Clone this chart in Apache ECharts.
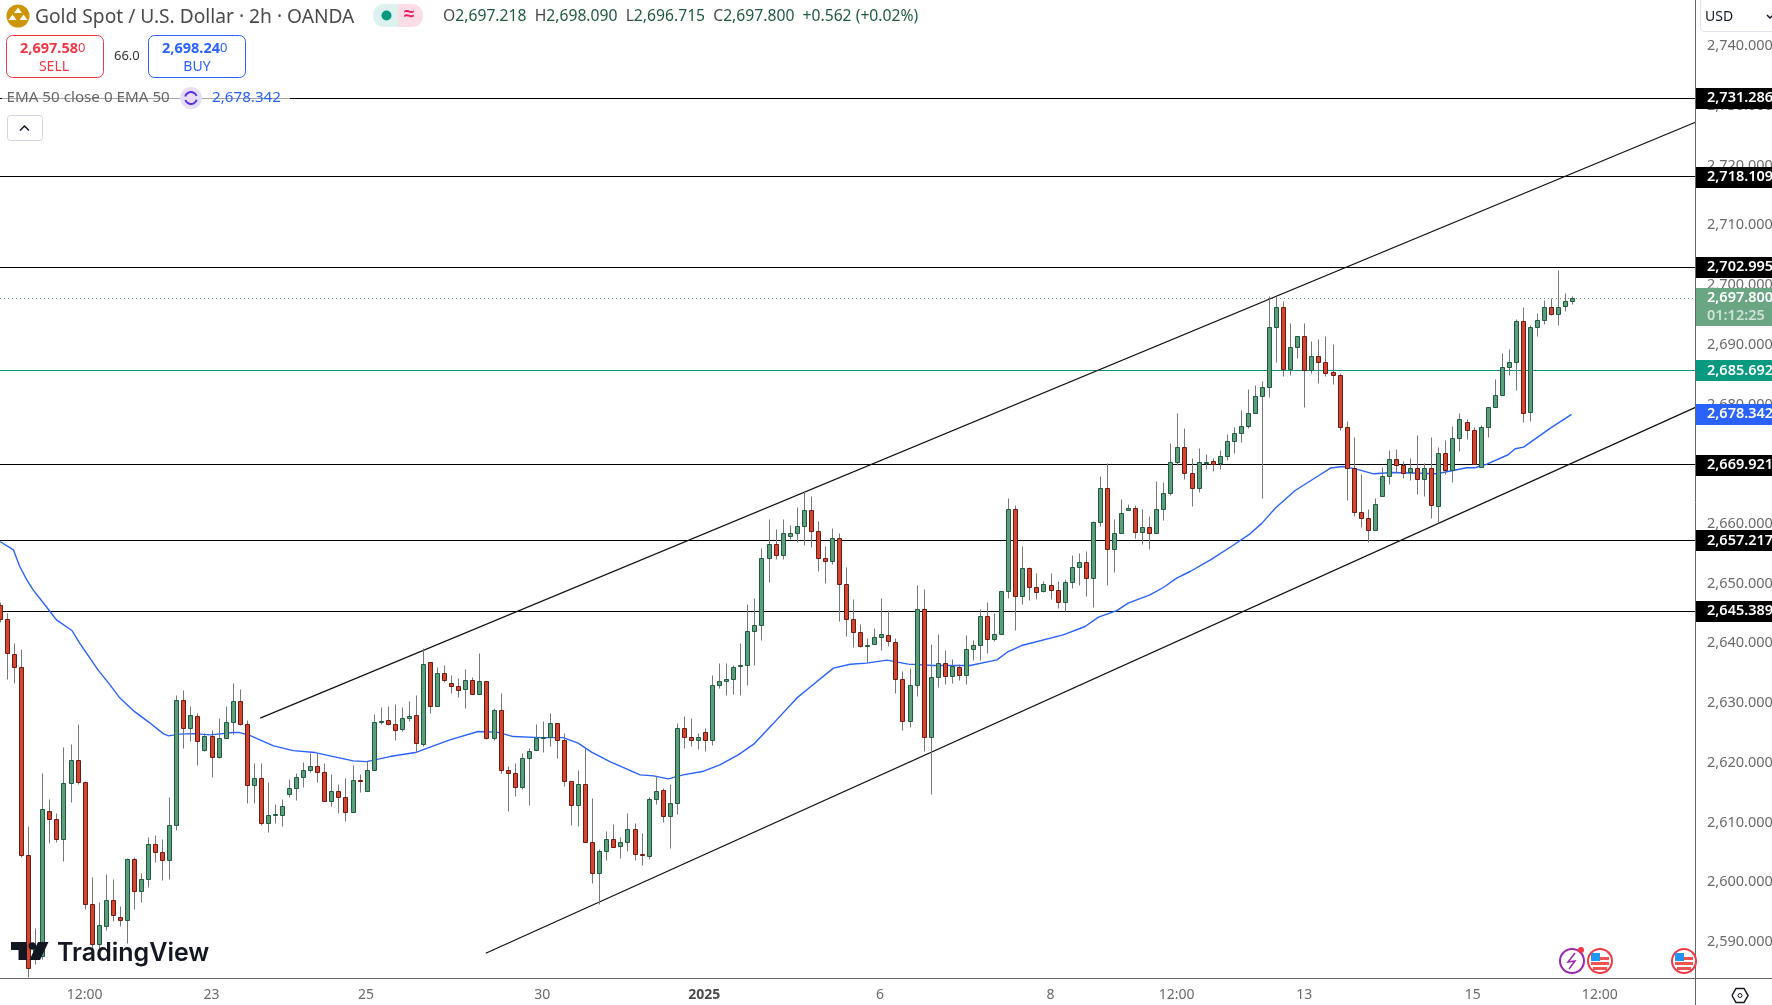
<!DOCTYPE html>
<html>
<head>
<meta charset="utf-8">
<script src="https://cdn.jsdelivr.net/npm/echarts@6/dist/echarts.min.js"></script>
<style>
  html, body { margin: 0; padding: 0; background: #fff; }
  #chart { width: 1772px; height: 1005px; }
</style>
</head>
<body>
<div id="chart"></div>
<script>
var opens = [
  2646.3,2644.05,2638.2,2636.0,2604.5,2587.3,2587.55,2611.9,2610.55,2607.2,
  2616.6,2620.45,2616.75,2596.3,2589.6,2592.55,2596.85,2594.15,2593.6,2603.85,
  2598.45,2600.4,2606.35,2605,2603.7,2609.55,2630.5,2625.75,2627.8,2622.05,
  2624.45,2620.95,2624.1,2626.8,2630.3,2626.45,2616.25,2617.4,2609.9,2611.2,
  2611.2,2614.75,2615.6,2617.6,2618.75,2619.4,2618.4,2613.55,2615.25,2614.25,
  2611.7,2617.05,2615.2,2618.75,2626.7,2627,2626.45,2625.6,2627.45,2627.95,
  2623.1,2636.7,2629.4,2635,2633.3,2632.75,2632.3,2633.85,2631.5,2633.65,
  2624.05,2628.8,2618.75,2618.25,2615.9,2620.7,2622.1,2624.2,2624.25,2626.6,
  2623.8,2616.9,2612.85,2616.4,2606.7,2601.45,2605.2,2607.2,2606,2606.7,
  2608.85,2604.7,2604.35,2613.9,2615.4,2611,2613.2,2625.8,2624.3,2623.75,
  2625.1,2623.8,2633,2633.65,2634,2636.15,2636.2,2642,2642.9,2654.25,
  2656.6,2654.7,2657.8,2658.45,2659.6,2662.3,2658.8,2654.25,2653.7,2657.6,
  2649.9,2643.9,2641.85,2639.5,2639.85,2641.05,2641.35,2640.2,2634,2626.95,
  2632.85,2645.7,2624.3,2634.35,2636.65,2634.5,2636,2634.6,2639,2639.7,
  2644.55,2640.7,2641.55,2648.6,2662.45,2647.75,2652.6,2649.4,2648.75,2649.75,
  2648.9,2646.9,2650.1,2652.75,2653.6,2650.9,2660.3,2666,2655.75,2658.45,
  2662.3,2662.65,2658.6,2659.45,2658.45,2662.45,2665,2670.35,2672.85,2668.5,
  2665.95,2670.3,2670.5,2670.05,2671.2,2673.85,2675.2,2676.35,2678.55,2681.4,
  2682.75,2692.8,2696.15,2685.9,2689.45,2691.3,2685.75,2688.1,2687.1,2685.4,
  2684.9,2676.05,2669.35,2661.95,2660.95,2658.95,2664.5,2668,2670.85,2669.85,
  2668.6,2669.35,2667.35,2669.35,2662.95,2671.85,2669,2674.35,2677.05,2675.7,
  2669.5,2676.2,2679.4,2681.55,2686.1,2686.95,2693.95,2678.7,2692.8,2694.1,
  2696.15,2695.1,2696.45,2697.218
];
var closes = [
  2644.05,2638.35,2636,2604.5,2585.6,2588.95,2612.1,2610.5,2607.2,2616.6,
  2620.45,2616.7,2596.3,2589.6,2592.7,2596.85,2594.4,2593.6,2603.85,2598.45,
  2600.4,2606.35,2604.95,2603.7,2609.55,2630.5,2625.75,2627.95,2623.55,2624.45,
  2620.95,2624.1,2626.8,2630.3,2626.4,2616.25,2617.4,2609.9,2611.2,2611.25,
  2612.7,2615.6,2617.6,2618.75,2619.4,2618.4,2613.55,2615.25,2614.25,2611.7,
  2617.05,2616.8,2618.75,2626.8,2626.95,2626.35,2625.4,2627.45,2627.8,2623.25,
  2636.5,2629.4,2635,2633.8,2632.75,2632.1,2633.85,2631.5,2633.65,2624.05,
  2628.8,2618.7,2618.2,2615.9,2620.75,2621.95,2624.1,2624.25,2626.6,2623.8,
  2616.85,2612.85,2616.4,2606.7,2601.45,2605.2,2607.2,2605.85,2606.7,2608.85,
  2604.7,2604.5,2613.9,2615.25,2611,2613.2,2625.8,2624.25,2623.8,2624.3,
  2623.8,2633,2633.65,2634,2636,2636.2,2642,2643,2654.25,2656.6,
  2654.7,2658.3,2658.45,2659.6,2662.3,2658.7,2654.25,2653.7,2657.55,2649.9,
  2643.9,2641.85,2639.45,2639.6,2641.05,2641.55,2640.35,2634,2626.95,2632.85,
  2645.7,2624.3,2634.35,2636.65,2634.5,2636.15,2634.6,2639,2639.7,2644.55,
  2640.7,2641.55,2648.6,2662.45,2647.75,2652.6,2649.4,2648.55,2649.9,2648.9,
  2646.9,2650.1,2652.75,2653.6,2650.9,2660.3,2666,2655.75,2658.45,2661.65,
  2662.65,2658.6,2659.45,2658.45,2662.45,2665,2670.35,2672.85,2668.5,2665.95,
  2670.35,2670.35,2670,2671.2,2673.85,2675.2,2676.35,2678.55,2681.4,2682.75,
  2692.8,2696.15,2685.9,2689.45,2691.3,2685.75,2688.1,2687.1,2685.25,2684.9,
  2676.05,2669.35,2661.95,2660.95,2658.95,2663.3,2668,2670.85,2669.85,2668.5,
  2669.35,2667.35,2669.35,2663.15,2671.85,2669,2674.35,2677.55,2675.65,2670,
  2676.2,2679.4,2681.55,2686.1,2686.95,2693.8,2678.55,2692.8,2694.1,2696.3,
  2695.1,2696.3,2697.3,2697.8
];
var highs = [
  2646.8,2645.05,2640,2639,2609.4,2592.3,2618.15,2613.9,2611.55,2622.6,
  2623,2626.45,2616.9,2600.85,2596.65,2601.2,2600.4,2595.9,2604,2604.1,
  2601.4,2607.5,2607.75,2607.1,2614.2,2631.3,2632.05,2629.35,2628.2,2624.85,
  2625.35,2627.45,2629.4,2633.3,2632.2,2627,2619.9,2619.9,2616.75,2612.95,
  2613.9,2617.15,2618.15,2620.1,2621.5,2621.6,2619.8,2618,2616.3,2617.35,
  2619.5,2618.1,2620.2,2628,2629.3,2629.4,2629.7,2629.25,2630.25,2631.2,
  2639.2,2636.8,2636,2636.35,2634.55,2634.15,2635.65,2634.3,2638.35,2633.65,
  2629.05,2631.65,2619.35,2619.8,2621.5,2622.35,2626.35,2626.85,2628.2,2626.6,
  2624.85,2616.9,2618.75,2622.6,2613.95,2605.55,2608.4,2609.6,2607.55,2611.55,
  2609.75,2608.1,2614.1,2617.7,2615.6,2616.3,2626.6,2627.7,2627.35,2624.95,
  2625.7,2634.55,2636.55,2636.55,2636.25,2640,2646.45,2647.45,2655.95,2660.65,
  2659,2660.65,2659.7,2662.7,2665.4,2664.5,2660.45,2656.15,2659.3,2658.45,
  2652.75,2647.4,2643.1,2640.85,2642.55,2647.55,2645.45,2640.85,2635.3,2635.85,
  2649.65,2648.95,2639.75,2641.4,2638.75,2637.25,2636.4,2641.25,2640.4,2645.7,
  2646.8,2644.95,2648.7,2664.3,2663.15,2656.15,2652.75,2651.65,2650.3,2651.65,
  2650.4,2650.75,2654.65,2655.1,2655.3,2660.45,2667.85,2670.15,2660.7,2664.15,
  2663.3,2663.05,2662.35,2661.15,2667.05,2667,2673.4,2678.4,2675.9,2671,
  2672.7,2671.55,2671,2672.25,2674.9,2676.1,2678.95,2682.55,2683.25,2683.9,
  2698,2698,2697.3,2693.6,2691.3,2693.6,2690.6,2690.95,2691.45,2689.95,
  2685.1,2677.2,2674.4,2668.2,2662.45,2664.3,2669.5,2672.25,2672.5,2670.5,
  2671,2674.75,2670.05,2674.5,2672.85,2674,2676.35,2678.4,2677.4,2676.05,
  2676.55,2679.4,2684.25,2688.6,2689.15,2694.3,2696.15,2693.2,2695.3,2697.45,
  2697.8,2702.4,2698.55,2698.09
];
var lows = [
  2643.5,2634,2633.3,2604.1,2584,2586.2,2587,2606.4,2606.65,2603.5,
  2613.35,2616.3,2595.45,2588.4,2588.9,2591.9,2593.4,2592.6,2589.8,2595.5,
  2596.6,2599.1,2603.3,2600.3,2600.4,2608.65,2622.4,2623.5,2619.55,2621.9,
  2617.5,2620.75,2624,2624.7,2626.2,2613.2,2613.2,2609.5,2608.3,2609.9,
  2609.3,2614.25,2613.65,2615.85,2618.35,2616.7,2613.45,2612.65,2611.55,2610.15,
  2611.7,2615,2615.2,2618.75,2626.4,2626.3,2623.65,2625.25,2626.9,2621.7,
  2622.7,2628.25,2629.4,2633.45,2631.65,2630.95,2629.1,2631.5,2631.5,2623.9,
  2623.7,2618.15,2611.85,2614.35,2615.55,2612.8,2622.1,2621.7,2622.7,2620.65,
  2616,2609.45,2609.3,2606.7,2599.8,2596.3,2603.6,2605.85,2603.9,2605.15,
  2603.6,2602.8,2603.85,2613.05,2610,2605.6,2611.25,2622.4,2622.65,2622.15,
  2621.85,2622.9,2632.45,2631.25,2631.4,2631.25,2632.95,2636.25,2640.5,2650.2,
  2654,2654,2657.45,2656.9,2656.4,2656.05,2652.05,2650,2653.25,2643.65,
  2641.15,2639.3,2639.3,2636.7,2639.85,2638.8,2639.45,2631.65,2625.4,2625.9,
  2631.1,2621.9,2614.6,2632.6,2633.05,2633.2,2633.75,2633.05,2637.1,2637.2,
  2638.35,2640.3,2641.55,2647.5,2642.15,2646.45,2647.1,2647.3,2648.45,2647.3,
  2645.75,2645.4,2649.2,2649.6,2647.85,2646,2659.55,2649.7,2651.85,2658.45,
  2662.3,2657.55,2656.5,2655.65,2658.45,2660.55,2664.8,2669.8,2667.4,2662.9,
  2665.25,2669.15,2668.7,2669.05,2670.6,2671.75,2673.6,2676,2678.4,2664.25,
  2681.2,2687.05,2684.7,2684.85,2687.7,2679.5,2685.2,2683.5,2684.7,2683.3,
  2675.65,2663.9,2661.25,2659.4,2656.95,2658.95,2664.5,2666.55,2668.5,2667.55,
  2667.2,2664.85,2664.6,2660.85,2660.1,2668.2,2666.95,2672.05,2674.1,2670,
  2669.4,2674.45,2679.4,2681.55,2684.8,2682.35,2677,2677.15,2691.4,2693.4,
  2694.85,2693.2,2695.55,2696.715
];

// EMA 50, bar position then price
var emaBars = [
  0,1.9,2.8,3.8,4.7,7.1,8,10.2,11.3,13.9,15.6,16.9,18.9,21,23.2,23.9,25.5,27.4,29.8,33.1,
  34,35.5,38.8,41.6,44.7,47.3,50.1,52,55.3,58.9,63.8,67.8,70.5,72.8,76.6,79.9,82,83.9,86.5,90.8,
  92.7,94.8,96.9,99.8,102.1,104.7,106.9,109.5,113,114.7,118.2,120.6,122.9,125.8,128.8,132.4,137.6,141.4,143,144.9,
  150.8,153.9,155.8,158.4,160,163.1,165,166.9,168.8,171.8,174.9,177.3,179,180.9,183.7,187,188.7,190.5,192.4,194.8,
  197.6,203.8,208,209.2,210.9,213.9,214.9,216.1,219.9,222.9
];
var emaValues = [
  2657.04,2655.65,2652.86,2650.63,2648.95,2645.32,2643.93,2642.14,2640.02,2635.55,2633.04,2630.98,2628.73,2626.89,2624.83,2624.5,2624.78,2624.88,2624.66,2625.05,
  2625.05,2624.55,2622.82,2622.03,2621.7,2621.03,2620.31,2620.19,2621.03,2621.7,2623.83,2625.22,2625.12,2624.38,2624.21,2624.21,2623.27,2621.77,2620.19,2617.96,
  2617.8,2617.29,2617.96,2618.58,2619.64,2621.31,2623.11,2626.34,2630.81,2632.48,2635.84,2636.48,2636.68,2637.18,2636.51,2636.28,2636.28,2637.23,2638.62,2639.62,
  2641.41,2642.81,2644.38,2645.48,2646.72,2648.12,2649.34,2650.91,2652.02,2654.06,2656.41,2658.33,2660.12,2662.64,2665.58,2668.05,2669.34,2669.61,2669.17,2668.38,
  2668.6,2668.38,2669.39,2669.39,2670.01,2671.57,2672.57,2672.85,2676.04,2678.34
];

var levelPrices = [2731.286, 2718.109, 2702.995, 2669.921, 2657.217, 2645.389];
var supportPrice = 2685.692;
var lastPrice = 2697.8;
var emaLast = 2678.342;

var upperTrendBars = [36.9, 240.55];
var upperTrendPrices = [2627.46, 2727.3];
var lowerTrendBars = [68.9, 240.55];
var lowerTrendPrices = [2588.1, 2679.55];

var priceTicks = [2590,2600,2610,2620,2630,2640,2650,2660,2670,2680,2690,2700,2710,2720,2730,2740];
var timeTickBars = [12, 30, 51.9, 76.9, 99.9, 124.8, 149, 166.9, 185, 208.9, 226.9];
var timeTickLabels = ['12:00', '23', '25', '30', '2025', '6', '8', '12:00', '13', '15', '12:00'];

var font = '"Noto Sans", sans-serif';
var upFill = '#5c9e7b', upLine = '#1f5b3e';
var downFill = '#d2452f', downLine = '#6e1a12';
var black = '#000000';
var teal = '#089981';
var blue = '#2962ff';
var lastGreen = '#6aa584';

var candleData = opens.map(function (o, i) {
  return [i, o, closes[i], lows[i], highs[i]];
});

function snap(v) {
  return Math.floor(v) + 0.5;
}

function fmt(v) {
  return v.toFixed(3).replace(/\B(?=(\d{3})+(?!\d))(?=.*\.)/g, ',');
}

function renderCandle(params, api) {
  var i = api.value(0), o = api.value(1), c = api.value(2);
  var x = snap(api.coord([i, o])[0] + 0.5);
  var yOpen = snap(api.coord([i, o])[1]);
  var yClose = snap(api.coord([i, c])[1]);
  var yLow = snap(api.coord([i, api.value(3)])[1]);
  var yHigh = snap(api.coord([i, api.value(4)])[1]);
  var up = c >= o;
  return {
    type: 'group',
    children: [
      {
        type: 'line',
        shape: { x1: x, y1: yHigh, x2: x, y2: yLow },
        style: { stroke: '#787878', lineWidth: 1 }
      },
      {
        type: 'rect',
        shape: { x: x - 2, y: Math.min(yOpen, yClose), width: 4, height: Math.max(Math.abs(yOpen - yClose), 1) },
        style: { fill: up ? upFill : downFill, stroke: up ? upLine : downLine, lineWidth: 1 }
      }
    ]
  };
}

function levelLine(color, dash) {
  return function (params, api) {
    var y = snap(api.coord([0, api.value(0)])[1]);
    var cs = params.coordSys;
    return {
      type: 'line',
      shape: { x1: cs.x, y1: y, x2: cs.x + cs.width, y2: y },
      style: { stroke: color, lineWidth: 1, lineDash: dash || null }
    };
  };
}

function priceTag(color) {
  return function (params, api) {
    var y = api.coord([0, api.value(0)])[1];
    var cs = params.coordSys;
    var x = cs.x + cs.width;
    return {
      type: 'group',
      children: [
        {
          type: 'rect',
          shape: { x: x, y: Math.round(y) - 10, width: 76, height: 21 },
          style: { fill: color }
        },
        {
          type: 'text',
          x: x + 11,
          y: y,
          style: { text: fmt(api.value(0)), fill: '#ffffff', font: '600 14.5px ' + font, textVerticalAlign: 'middle' }
        }
      ]
    };
  };
}

function renderLastTag(params, api) {
  var y = api.coord([0, api.value(0)])[1];
  var cs = params.coordSys;
  var x = cs.x + cs.width;
  return {
    type: 'group',
    children: [
      {
        type: 'rect',
        shape: { x: x, y: Math.round(y) - 10, width: 76, height: 38 },
        style: { fill: lastGreen }
      },
      {
        type: 'text',
        x: x + 11,
        y: y,
        style: { text: fmt(api.value(0)), fill: '#ffffff', font: '600 14.5px ' + font, textVerticalAlign: 'middle' }
      },
      {
        type: 'text',
        x: x + 11,
        y: y + 18,
        style: { text: '01:12:25', fill: '#cfe2d8', font: '600 14.5px ' + font, textVerticalAlign: 'middle' }
      }
    ]
  };
}

function label(x, y, text, color, size, extra) {
  var style = { x: x, y: y, text: text, fill: color, font: (extra && extra.weight ? extra.weight + ' ' : '') + size + 'px ' + font, textVerticalAlign: 'middle', textAlign: (extra && extra.align) || 'left' };
  return { type: 'text', z: 60, style: style };
}

function box(x, y, w, h, r, stroke, fill) {
  return { type: 'rect', z: 55, shape: { x: x, y: y, width: w, height: h, r: r }, style: { fill: fill || '#fff', stroke: stroke, lineWidth: 1 } };
}

function poly(points, fill, stroke) {
  return { type: stroke ? 'polyline' : 'polygon', z: 60, shape: { points: points }, style: stroke ? { fill: 'none', stroke: stroke, lineWidth: 1.5 } : { fill: fill } };
}

function dot(cx, cy, r, fill, stroke, lw) {
  return { type: 'circle', z: 58, shape: { cx: cx, cy: cy, r: r }, style: { fill: fill, stroke: stroke, lineWidth: lw || 0 } };
}

function quote(x, big, color) {
  return {
    type: 'text', z: 60,
    style: {
      x: x, y: 49,
      text: '{a|' + big + '}{b|0}',
      textVerticalAlign: 'middle',
      rich: {
        a: { fill: color, font: '700 14.5px ' + font },
        b: { fill: color, font: '13px ' + font, verticalAlign: 'top' }
      }
    }
  };
}

function flagIcon(cx, cy) {
  return [
    dot(cx, cy, 12, '#ffffff', '#f23645', 2),
    { type: 'rect', z: 59, shape: { x: cx - 9, y: cy + 1, width: 18, height: 3 }, style: { fill: '#ef5350' } },
    { type: 'rect', z: 59, shape: { x: cx - 7, y: cy + 6, width: 14, height: 3 }, style: { fill: '#ef5350' } },
    { type: 'rect', z: 59, shape: { x: cx, y: cy - 4, width: 9, height: 3 }, style: { fill: '#ef5350' } },
    { type: 'rect', z: 59, shape: { x: cx - 9, y: cy - 8, width: 9, height: 8 }, style: { fill: '#2196f3' } }
  ];
}

var header = [
  // symbol line
  dot(18, 16, 11.5, '#cf9508'),
  poly([[18, 7.5], [22, 13], [14, 13]], '#ffffff'),
  poly([[12.5, 14.5], [16.5, 20], [8.5, 20]], '#ffffff'),
  poly([[23.5, 14.5], [27.5, 20], [19.5, 20]], '#ffffff'),
  label(35, 18, 'Gold Spot / U.S. Dollar · 2h · OANDA', '#4a4a4a', 19.2),
  { type: 'rect', z: 55, shape: { x: 373, y: 4, width: 26, height: 23, r: [11, 0, 0, 11] }, style: { fill: '#ddf2ee' } },
  { type: 'rect', z: 55, shape: { x: 398, y: 4, width: 25, height: 23, r: [0, 11, 11, 0] }, style: { fill: '#fbdde6' } },
  dot(386.5, 15.5, 5, teal),
  label(409, 15, '≈', '#e91e63', 19, { align: 'center', weight: 700 }),
  {
    type: 'text', z: 60,
    style: {
      x: 443, y: 17,
      text: '{g|O}{v|2,697.218}  {g|H}{v|2,698.090}  {g|L}{v|2,696.715}  {g|C}{v|2,697.800}  {v|+0.562 (+0.02%)}',
      font: '15.7px ' + font,
      textVerticalAlign: 'middle',
      rich: {
        g: { fill: '#4a4a4a', font: '15.7px ' + font },
        v: { fill: '#1f5b3e', font: '15.7px ' + font }
      }
    }
  },
  // sell and buy boxes
  box(6.5, 35.5, 97, 42, 6, '#f23645'),
  quote(20, '2,697.58', '#f23645'),
  label(54, 67, 'SELL', '#f23645', 14, { align: 'center' }),
  label(114, 56, '66.0', '#333333', 13),
  box(148.5, 35.5, 97, 42, 6, blue),
  quote(162, '2,698.24', blue),
  label(197, 67, 'BUY', blue, 14, { align: 'center' }),
  // indicator legend sits on the top level line
  { type: 'rect', z: 54, shape: { x: 2, y: 88, width: 288, height: 22 }, style: { fill: 'rgba(255,255,255,0.65)' } },
  label(6.5, 98, 'EMA 50 close 0 EMA 50', '#666666', 15.2),
  dot(191, 98, 11, '#e7defb'),
  { type: 'arc', z: 60, shape: { cx: 191, cy: 98, r: 6, startAngle: 3.4, endAngle: 5.9 }, style: { fill: 'none', stroke: '#5b2df0', lineWidth: 2 } },
  { type: 'arc', z: 60, shape: { cx: 191, cy: 98, r: 6, startAngle: 0.3, endAngle: 2.8 }, style: { fill: 'none', stroke: '#5b2df0', lineWidth: 2 } },
  label(212, 98, '2,678.342', blue, 15.2),
  box(7.5, 115.5, 35, 25, 3, '#d1d4dc'),
  poly([[20, 130.5], [24.5, 126], [29, 130.5]], null, '#131722'),
  // currency selector
  box(1700.5, -2, 90, 33.5, 4, '#e0e3eb'),
  label(1705, 17, 'USD', '#131722', 14),
  poly([[1767, 15], [1770, 18], [1773, 15]], null, '#131722'),
  // pane borders
  { type: 'line', z: 50, shape: { x1: 1695.5, y1: 0, x2: 1695.5, y2: 1005 }, style: { stroke: '#666666', lineWidth: 1 } },
  { type: 'line', z: 50, shape: { x1: 0, y1: 978.5, x2: 1772, y2: 978.5 }, style: { stroke: '#666666', lineWidth: 1 } },
  // settings button
  poly([[1732, 995.5], [1736, 988.5], [1744, 988.5], [1748, 995.5], [1744, 1002.5], [1736, 1002.5], [1732, 995.5]], null, '#131722'),
  dot(1740, 995.5, 2, '#ffffff', '#131722', 1),
  // TradingView mark
  poly([[11, 942], [27, 942], [27, 960], [18.5, 960], [18.5, 950], [11, 950]], '#131722'),
  dot(32.3, 946, 3.7, '#131722'),
  poly([[38, 942], [48.5, 942], [40, 960], [29.5, 960]], '#131722'),
  { type: 'text', z: 60, style: { x: 57, y: 953, text: 'TradingView', fill: '#131722', font: '600 25px Inter, ' + font, textVerticalAlign: 'middle' } },
  // events
  dot(1572, 961, 12, '#ffffff', '#9c27b0', 2),
  poly([[1575, 953], [1568, 962], [1575, 961], [1569, 969]], null, '#9c27b0'),
  dot(1581, 950, 3, '#f23645')
].concat(flagIcon(1600, 961), flagIcon(1684, 961));

var option = {
  animation: false,
  backgroundColor: '#ffffff',
  textStyle: { fontFamily: font },
  grid: { left: 0, right: 76, top: 0, bottom: 27, containLabel: false, outerBoundsMode: 'none' },
  xAxis: {
    type: 'value',
    min: 0,
    max: 240.55,
    splitLine: { show: false },
    axisLine: { show: false },
    axisTick: { show: false },
    axisLabel: {
      customValues: timeTickBars,
      margin: 10,
      color: '#6a6a6a',
      fontSize: 14,
      fontFamily: font,
      formatter: function (v) {
        var t = timeTickLabels[timeTickBars.indexOf(v)];
        return t === '2025' ? '{b|' + t + '}' : t;
      },
      rich: { b: { fontWeight: 700, fontSize: 14, color: '#4a4a4a', fontFamily: font } }
    }
  },
  yAxis: {
    type: 'value',
    position: 'right',
    min: 2583.95,
    max: 2747.72,
    splitLine: { show: false },
    axisLine: { show: false },
    axisTick: { show: false },
    axisLabel: {
      customValues: priceTicks,
      margin: 11,
      color: '#6a6a6a',
      fontSize: 14.5,
      fontFamily: font,
      padding: [0, 0, 3, 0],
      formatter: fmt
    }
  },
  graphic: { elements: header },
  series: [
    { type: 'custom', renderItem: levelLine(black), data: levelPrices.map(function (p) { return [p]; }), encode: { y: 0 }, z: 2, silent: true },
    { type: 'custom', renderItem: levelLine(teal), data: [[supportPrice]], encode: { y: 0 }, z: 2, silent: true },
    { type: 'custom', renderItem: levelLine(lastGreen, [1, 3]), data: [[lastPrice]], encode: { y: 0 }, z: 2, silent: true },
    {
      type: 'line',
      data: emaBars.map(function (b, i) { return [b, emaValues[i]]; }),
      showSymbol: false,
      lineStyle: { color: blue, width: 1.4 },
      z: 3,
      silent: true
    },
    {
      type: 'line',
      data: upperTrendBars.map(function (b, i) { return [b, upperTrendPrices[i]]; }),
      showSymbol: false,
      lineStyle: { color: '#111111', width: 1.2 },
      z: 3,
      silent: true
    },
    {
      type: 'line',
      data: lowerTrendBars.map(function (b, i) { return [b, lowerTrendPrices[i]]; }),
      showSymbol: false,
      lineStyle: { color: '#111111', width: 1.2 },
      z: 3,
      silent: true
    },
    {
      type: 'custom',
      renderItem: renderCandle,
      data: candleData,
      encode: { x: 0, y: [1, 2, 3, 4] },
      clip: true,
      z: 4,
      silent: true
    },
    { type: 'custom', renderItem: priceTag(black), data: levelPrices.map(function (p) { return [p]; }), encode: { y: 0 }, z: 40, silent: true },
    { type: 'custom', renderItem: priceTag(teal), data: [[supportPrice]], encode: { y: 0 }, z: 40, silent: true },
    { type: 'custom', renderItem: priceTag(blue), data: [[emaLast]], encode: { y: 0 }, z: 41, silent: true },
    { type: 'custom', renderItem: renderLastTag, data: [[lastPrice]], encode: { y: 0 }, z: 40, silent: true }
  ]
};

var chart = echarts.init(document.getElementById('chart'), null, { renderer: 'canvas' });
chart.setOption(option);
</script>
</body>
</html>
